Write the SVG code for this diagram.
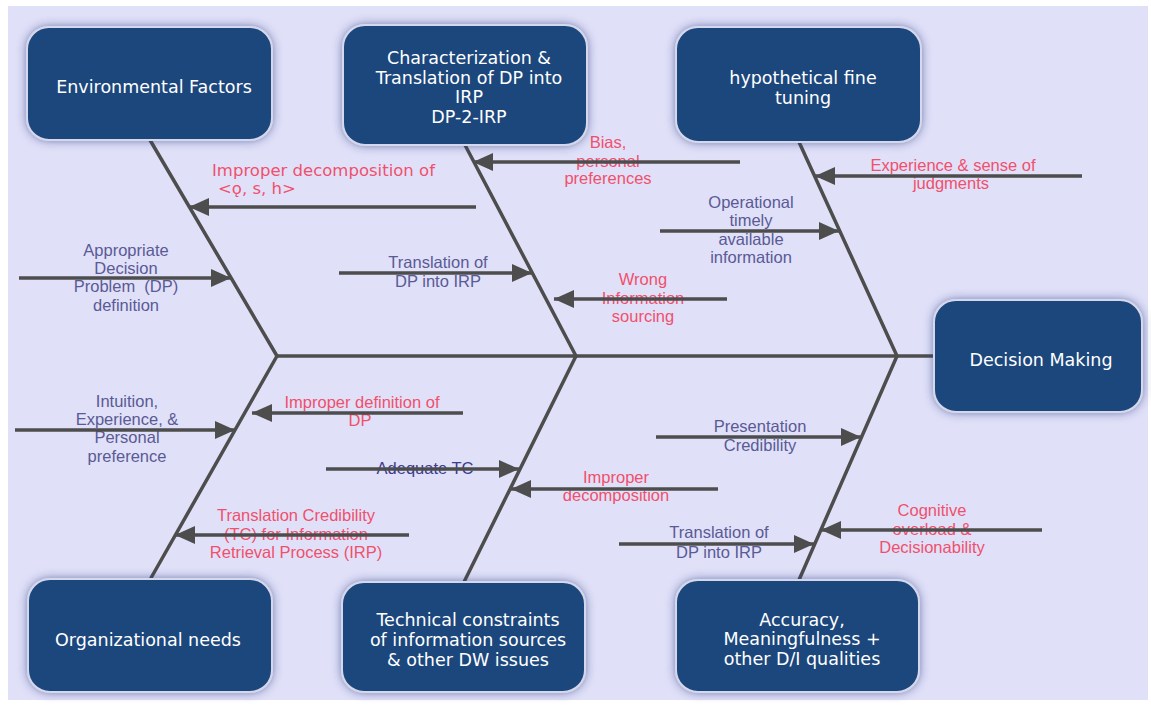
<svg xmlns="http://www.w3.org/2000/svg" width="1151" height="705" viewBox="0 0 1151 705">
<defs>
<style>
.box{fill:#1E467D;stroke:#D4D8EC;stroke-width:2;filter:url(#glow)}
.bt{font-family:"DejaVu Sans",Verdana,sans-serif;font-size:17.5px;fill:#FFFFFF;text-anchor:middle}
.bone{stroke:#4D4D4D;stroke-width:3.5;fill:none;stroke-linecap:round}
.arr{stroke:#4D4D4D;stroke-width:3.5;fill:none;marker-end:url(#ah)}
.lb{font-family:"Liberation Sans",Arial,sans-serif;font-size:16.5px;fill:#5A5A94;text-anchor:middle;white-space:pre}
.lr{font-family:"Liberation Sans",Arial,sans-serif;font-size:16.5px;fill:#F0506C;text-anchor:middle}
.ld{font-family:"Liberation Sans",Arial,sans-serif;font-size:16.5px;fill:#3C3C8E;text-anchor:middle}
.big{font-family:"DejaVu Sans",Verdana,sans-serif;font-size:16.5px;fill:#F0506C}
</style>
<filter id="glow" x="-20%" y="-20%" width="140%" height="140%">
<feGaussianBlur in="SourceAlpha" stdDeviation="5" result="b"/>
<feFlood flood-color="#2B3A7A" flood-opacity="0.6"/>
<feComposite in2="b" operator="in" result="s"/>
<feMerge><feMergeNode in="s"/><feMergeNode in="SourceGraphic"/></feMerge>
</filter>
<marker id="ah" markerUnits="userSpaceOnUse" viewBox="0 0 20 18" refX="20" refY="9" markerWidth="20" markerHeight="18" orient="auto">
<path d="M0,0 L20,9 L0,18 Z" fill="#4D4D4D"/>
</marker>
</defs>
<rect x="0" y="0" width="1151" height="705" fill="#FFFFFF"/>
<rect x="8" y="6" width="1140" height="694" fill="#E0E0F9"/>

<g id="labels">
<text class="big" x="212" y="176">Improper decomposition of</text>
<text class="big" x="218" y="194">&lt;ǫ, s, h&gt;</text>
<text class="lb" x="126" y="256">Appropriate</text>
<text class="lb" x="126" y="274">Decision</text>
<text class="lb" x="126" y="292">Problem  (DP)</text>
<text class="lb" x="126" y="311">definition</text>
<text class="lb" x="127" y="407">Intuition,</text>
<text class="lb" x="127" y="425">Experience, &amp;</text>
<text class="lb" x="127" y="443">Personal</text>
<text class="lb" x="127" y="462">preference</text>
<text class="lr" x="362" y="408">Improper definition of</text>
<text class="lr" x="360" y="426">DP</text>
<text class="lr" x="296" y="521">Translation Credibility</text>
<text class="lr" x="296" y="540">(TC) for Information</text>
<text class="lr" x="296" y="558">Retrieval Process (IRP)</text>
<text class="lr" x="608" y="148">Bias,</text>
<text class="lr" x="608" y="167">personal</text>
<text class="lr" x="608" y="184">preferences</text>
<text class="lb" x="438" y="268">Translation of</text>
<text class="lb" x="438" y="287">DP into IRP</text>
<text class="lr" x="643" y="285">Wrong</text>
<text class="lr" x="643" y="304">Information</text>
<text class="lr" x="643" y="322">sourcing</text>
<text class="ld" x="425" y="474">Adequate TC</text>
<text class="lr" x="616" y="483">Improper</text>
<text class="lr" x="616" y="501">decomposition</text>
<text class="lr" x="953" y="171">Experience &amp; sense of</text>
<text class="lr" x="951" y="189">judgments</text>
<text class="lb" x="751" y="208">Operational</text>
<text class="lb" x="751" y="226">timely</text>
<text class="lb" x="751" y="245">available</text>
<text class="lb" x="751" y="263">information</text>
<text class="lb" x="760" y="432">Presentation</text>
<text class="lb" x="760" y="451">Credibility</text>
<text class="lr" x="932" y="516">Cognitive</text>
<text class="lr" x="932" y="535">overload &amp;</text>
<text class="lr" x="932" y="553">Decisionability</text>
<text class="lb" x="719" y="538">Translation of</text>
<text class="lb" x="719" y="558">DP into IRP</text>
</g>

<g id="connectors">
<line class="bone" x1="150" y1="140" x2="277" y2="356"/>
<line class="bone" x1="277" y1="356" x2="151" y2="578"/>
<line class="bone" x1="465" y1="145" x2="576" y2="356"/>
<line class="bone" x1="576" y1="356" x2="464" y2="582"/>
<line class="bone" x1="799" y1="142" x2="897" y2="356"/>
<line class="bone" x1="897" y1="356" x2="799" y2="580"/>
<line class="bone" x1="277" y1="356" x2="934" y2="356"/>
<line class="arr" x1="476" y1="207" x2="189" y2="207"/>
<line class="arr" x1="19" y1="278" x2="231" y2="278"/>
<line class="arr" x1="463" y1="413" x2="252" y2="413"/>
<line class="arr" x1="15" y1="430" x2="235" y2="430"/>
<line class="arr" x1="409" y1="535" x2="175" y2="535"/>
<line class="arr" x1="740" y1="162" x2="473" y2="162"/>
<line class="arr" x1="339" y1="273" x2="532" y2="273"/>
<line class="arr" x1="727" y1="299" x2="554" y2="299"/>
<line class="arr" x1="326" y1="469" x2="519" y2="469"/>
<line class="arr" x1="718" y1="489" x2="511" y2="489"/>
<line class="arr" x1="1082" y1="176" x2="815" y2="176"/>
<line class="arr" x1="660" y1="231" x2="839" y2="231"/>
<line class="arr" x1="656" y1="437" x2="861" y2="437"/>
<line class="arr" x1="1042" y1="530" x2="821" y2="530"/>
<line class="arr" x1="619" y1="544" x2="814" y2="544"/>
</g>

<g id="env">
<rect class="box" x="27" y="27" width="245" height="113" rx="22"/>
<text class="bt" x="154" y="93">Environmental Factors</text>
</g>
<g id="char">
<rect class="box" x="343" y="25" width="244" height="120" rx="22"/>
<text class="bt" x="469" y="64">Characterization &amp;</text>
<text class="bt" x="469" y="84">Translation of DP into</text>
<text class="bt" x="469" y="103">IRP</text>
<text class="bt" x="469" y="123">DP-2-IRP</text>
</g>
<g id="hyp">
<rect class="box" x="676" y="27" width="245" height="115" rx="22"/>
<text class="bt" x="803" y="84">hypothetical fine</text>
<text class="bt" x="803" y="104">tuning</text>
</g>
<g id="dm">
<rect class="box" x="934" y="300" width="208" height="112" rx="22"/>
<text class="bt" x="1041" y="366">Decision Making</text>
</g>
<g id="org">
<rect class="box" x="28" y="579" width="244" height="113" rx="22"/>
<text class="bt" x="148" y="646">Organizational needs</text>
</g>
<g id="tech">
<rect class="box" x="342" y="582" width="243" height="110" rx="22"/>
<text class="bt" x="468" y="626">Technical constraints</text>
<text class="bt" x="468" y="646">of information sources</text>
<text class="bt" x="468" y="666">&amp; other DW issues</text>
</g>
<g id="acc">
<rect class="box" x="676" y="580" width="243" height="112" rx="22"/>
<text class="bt" x="802" y="626">Accuracy,</text>
<text class="bt" x="802" y="645">Meaningfulness +</text>
<text class="bt" x="802" y="665">other D/I qualities</text>
</g>
</svg>
